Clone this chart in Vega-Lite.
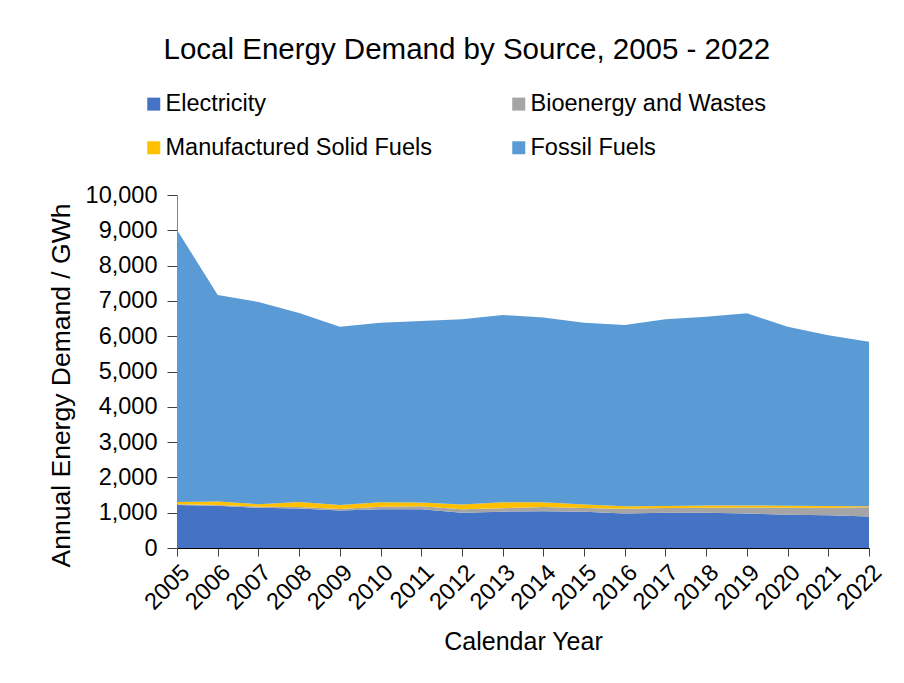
{
  "$schema": "https://vega.github.io/schema/vega-lite/v6.json",
  "width": 692,
  "height": 353,
  "autosize": {"type": "none"},
  "padding": {"left": 177, "top": 195, "right": 35, "bottom": 135},
  "background": "white",
  "config": {
    "font": "Liberation Sans",
    "view": {"stroke": null}
  },
  "title": {
    "text": "Local Energy Demand by Source, 2005 - 2022",
    "font": "Liberation Sans",
    "fontSize": 29.5,
    "fontWeight": "normal",
    "color": "#000000",
    "anchor": "middle",
    "frame": "bounds",
    "offset": 27
  },
  "data": {
    "values": [
      {"year": "2005", "source": "Electricity", "value": 1220},
      {"year": "2005", "source": "Bioenergy and Wastes", "value": 20},
      {"year": "2005", "source": "Manufactured Solid Fuels", "value": 65},
      {"year": "2005", "source": "Fossil Fuels", "value": 7705},
      {"year": "2006", "source": "Electricity", "value": 1200},
      {"year": "2006", "source": "Bioenergy and Wastes", "value": 20},
      {"year": "2006", "source": "Manufactured Solid Fuels", "value": 100},
      {"year": "2006", "source": "Fossil Fuels", "value": 5850},
      {"year": "2007", "source": "Electricity", "value": 1140},
      {"year": "2007", "source": "Bioenergy and Wastes", "value": 30},
      {"year": "2007", "source": "Manufactured Solid Fuels", "value": 70},
      {"year": "2007", "source": "Fossil Fuels", "value": 5730},
      {"year": "2008", "source": "Electricity", "value": 1120},
      {"year": "2008", "source": "Bioenergy and Wastes", "value": 45},
      {"year": "2008", "source": "Manufactured Solid Fuels", "value": 140},
      {"year": "2008", "source": "Fossil Fuels", "value": 5355},
      {"year": "2009", "source": "Electricity", "value": 1060},
      {"year": "2009", "source": "Bioenergy and Wastes", "value": 45},
      {"year": "2009", "source": "Manufactured Solid Fuels", "value": 110},
      {"year": "2009", "source": "Fossil Fuels", "value": 5055},
      {"year": "2010", "source": "Electricity", "value": 1100},
      {"year": "2010", "source": "Bioenergy and Wastes", "value": 70},
      {"year": "2010", "source": "Manufactured Solid Fuels", "value": 125},
      {"year": "2010", "source": "Fossil Fuels", "value": 5085},
      {"year": "2011", "source": "Electricity", "value": 1100},
      {"year": "2011", "source": "Bioenergy and Wastes", "value": 85},
      {"year": "2011", "source": "Manufactured Solid Fuels", "value": 105},
      {"year": "2011", "source": "Fossil Fuels", "value": 5140},
      {"year": "2012", "source": "Electricity", "value": 1000},
      {"year": "2012", "source": "Bioenergy and Wastes", "value": 95},
      {"year": "2012", "source": "Manufactured Solid Fuels", "value": 140},
      {"year": "2012", "source": "Fossil Fuels", "value": 5245},
      {"year": "2013", "source": "Electricity", "value": 1030},
      {"year": "2013", "source": "Bioenergy and Wastes", "value": 95},
      {"year": "2013", "source": "Manufactured Solid Fuels", "value": 170},
      {"year": "2013", "source": "Fossil Fuels", "value": 5305},
      {"year": "2014", "source": "Electricity", "value": 1040},
      {"year": "2014", "source": "Bioenergy and Wastes", "value": 120},
      {"year": "2014", "source": "Manufactured Solid Fuels", "value": 135},
      {"year": "2014", "source": "Fossil Fuels", "value": 5235},
      {"year": "2015", "source": "Electricity", "value": 1030},
      {"year": "2015", "source": "Bioenergy and Wastes", "value": 105},
      {"year": "2015", "source": "Manufactured Solid Fuels", "value": 95},
      {"year": "2015", "source": "Fossil Fuels", "value": 5150},
      {"year": "2016", "source": "Electricity", "value": 980},
      {"year": "2016", "source": "Bioenergy and Wastes", "value": 130},
      {"year": "2016", "source": "Manufactured Solid Fuels", "value": 75},
      {"year": "2016", "source": "Fossil Fuels", "value": 5135},
      {"year": "2017", "source": "Electricity", "value": 1000},
      {"year": "2017", "source": "Bioenergy and Wastes", "value": 130},
      {"year": "2017", "source": "Manufactured Solid Fuels", "value": 60},
      {"year": "2017", "source": "Fossil Fuels", "value": 5290},
      {"year": "2018", "source": "Electricity", "value": 1000},
      {"year": "2018", "source": "Bioenergy and Wastes", "value": 140},
      {"year": "2018", "source": "Manufactured Solid Fuels", "value": 65},
      {"year": "2018", "source": "Fossil Fuels", "value": 5345},
      {"year": "2019", "source": "Electricity", "value": 980},
      {"year": "2019", "source": "Bioenergy and Wastes", "value": 170},
      {"year": "2019", "source": "Manufactured Solid Fuels", "value": 55},
      {"year": "2019", "source": "Fossil Fuels", "value": 5445},
      {"year": "2020", "source": "Electricity", "value": 940},
      {"year": "2020", "source": "Bioenergy and Wastes", "value": 200},
      {"year": "2020", "source": "Manufactured Solid Fuels", "value": 55},
      {"year": "2020", "source": "Fossil Fuels", "value": 5075},
      {"year": "2021", "source": "Electricity", "value": 930},
      {"year": "2021", "source": "Bioenergy and Wastes", "value": 210},
      {"year": "2021", "source": "Manufactured Solid Fuels", "value": 50},
      {"year": "2021", "source": "Fossil Fuels", "value": 4840},
      {"year": "2022", "source": "Electricity", "value": 890},
      {"year": "2022", "source": "Bioenergy and Wastes", "value": 265},
      {"year": "2022", "source": "Manufactured Solid Fuels", "value": 30},
      {"year": "2022", "source": "Fossil Fuels", "value": 4660}
    ]
  },
  "transform": [
    {"calculate": "indexof(['Electricity', 'Bioenergy and Wastes', 'Manufactured Solid Fuels', 'Fossil Fuels'], datum.source)", "as": "stackRank"}
  ],
  "mark": {"type": "area", "opacity": 1},
  "encoding": {
    "x": {
      "field": "year",
      "type": "ordinal",
      "scale": {"type": "point", "padding": 0},
      "axis": {
        "title": "Calendar Year",
        "titleFontSize": 25,
        "titleFontWeight": "normal",
        "titleColor": "#000000",
        "titlePadding": 16,
        "labelAngle": -45,
        "labelFontSize": 23.5,
        "labelColor": "#000000",
        "labelPadding": 4,
        "tickSize": 8,
        "tickColor": "#404040",
        "domainColor": "#000000",
        "grid": false
      }
    },
    "y": {
      "field": "value",
      "type": "quantitative",
      "stack": "zero",
      "scale": {"domain": [0, 10000], "nice": false},
      "axis": {
        "title": "Annual Energy Demand / GWh",
        "titleFontSize": 26.5,
        "titleFontWeight": "normal",
        "titleColor": "#000000",
        "titlePadding": 10,
        "titleY": 190,
        "values": [0, 1000, 2000, 3000, 4000, 5000, 6000, 7000, 8000, 9000, 10000],
        "format": ",.0f",
        "labelFontSize": 23.5,
        "labelColor": "#000000",
        "labelPadding": 10,
        "tickSize": 10,
        "tickColor": "#404040",
        "domainColor": "#868686",
        "grid": false
      }
    },
    "color": {
      "field": "source",
      "type": "nominal",
      "sort": ["Electricity", "Bioenergy and Wastes", "Manufactured Solid Fuels", "Fossil Fuels"],
      "scale": {
        "domain": ["Electricity", "Bioenergy and Wastes", "Manufactured Solid Fuels", "Fossil Fuels"],
        "range": ["#4472C4", "#A5A5A5", "#FFC000", "#5B9BD5"]
      },
      "legend": {
        "title": null,
        "orient": "none",
        "legendX": -35,
        "legendY": -103,
        "direction": "horizontal",
        "columns": 2,
        "columnPadding": 75,
        "rowPadding": 19,
        "symbolType": "square",
        "symbolSize": 169,
        "symbolStrokeWidth": 0,
        "symbolOpacity": 1,
        "labelFontSize": 23.5,
        "labelColor": "#000000",
        "labelOffset": 0,
        "labelLimit": 400
      }
    },
    "order": {"field": "stackRank", "type": "quantitative", "sort": "ascending"}
  }
}
